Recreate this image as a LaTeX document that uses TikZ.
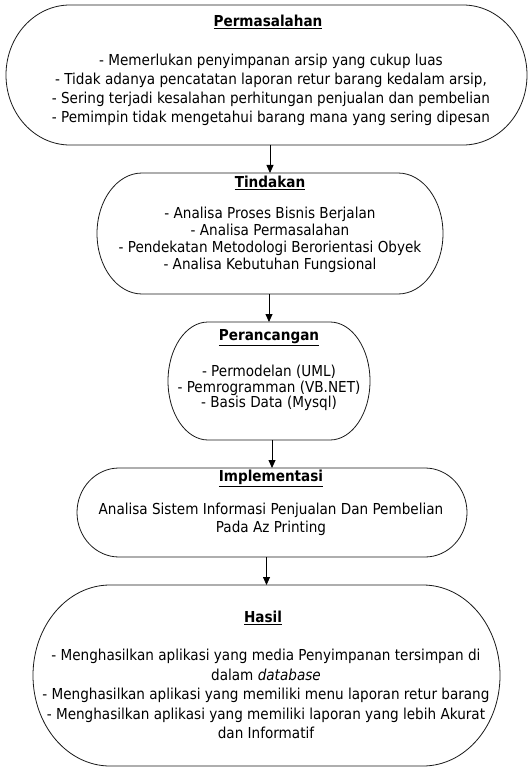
\documentclass[tikz,border=0pt]{standalone}
\usepackage{fontspec}
\setmainfont{DejaVu Sans Condensed}
\usetikzlibrary{arrows.meta,calc}

% capsule outline around a frame node: straight top/bottom, elliptic ends
\newcommand\capsule[3]{%
  \draw[outline] ($(#1.north west)+(#2pt,0)$) -- ($(#1.north east)+(-#2pt,0)$)
    arc[start angle=90,end angle=-90,x radius=#2pt,y radius=#3pt]
    -- ($(#1.south west)+(#2pt,0)$)
    arc[start angle=270,end angle=90,x radius=#2pt,y radius=#3pt] -- cycle;}

\begin{document}
\begin{tikzpicture}[x=1pt,y=-1pt,
  frame/.style={draw=none,inner sep=0pt,outer sep=0pt},
  outline/.style={draw=black!90,line width=0.8pt},
  title/.style={inner sep=0pt,font=\fontsize{15.1}{16}\selectfont\bfseries},
  body/.style={inner sep=0pt,align=center,font=\fontsize{15.1}{#1}\selectfont},
  body/.default=19,
  arr/.style={draw=black,line width=0.8pt,-{Triangle[length=8pt,width=7pt]}}]
\useasboundingbox (0,0) rectangle (531,767);

% frames
\node[frame,minimum width=521pt,minimum height=140pt] (b1) at (266.5,75) {};
\node[frame,minimum width=346pt,minimum height=121pt] (b2) at (270,233.5) {};
\node[frame,minimum width=202pt,minimum height=118pt] (b3) at (269,381) {};
\node[frame,minimum width=390pt,minimum height=89pt] (b4) at (272,512.5) {};
\node[frame,minimum width=467pt,minimum height=181pt] (b5) at (266.5,675.5) {};

\capsule{b1}{64}{70}
\capsule{b2}{45}{60.5}
\capsule{b3}{40}{59}
\capsule{b4}{42}{44.5}
\capsule{b5}{77}{90.5}

% texts
\node[title] (t1) at (268,22) {\underline{Permasalahan}};
\node[body=19] (d1) at (271,90) {- Memerlukan penyimpanan arsip yang cukup luas\\
- Tidak adanya pencatatan laporan retur barang kedalam arsip,\\
- Sering terjadi kesalahan perhitungan penjualan dan pembelian\\
- Pemimpin tidak mengetahui barang mana yang sering dipesan};

\node[title] (t2) at (270,183) {\underline{Tindakan}};
\node[body=17.2] (d2) at (270,240) {- Analisa Proses Bisnis Berjalan\\
- Analisa Permasalahan\\
- Pendekatan Metodologi Berorientasi Obyek\\
- Analisa Kebutuhan Fungsional};

\node[title] (t3) at (269,338) {\underline{Perancangan}};
\node[body=15.8] (d3) at (269,388) {- Permodelan (UML)\\
- Pemrogramman (VB.NET)\\
- Basis Data (Mysql)};

\node[title] (t4) at (271,478) {\underline{Implementasi}};
\node[body=18] (d4) at (271,519) {Analisa Sistem Informasi Penjualan Dan Pembelian\\
Pada Az Printing};

\node[title] (t5) at (263,618) {\underline{Hasil}};
\node[body=19.5] (d5) at (266,694) {- Menghasilkan aplikasi yang media Penyimpanan tersimpan di\\
dalam \textit{database}\\
- Menghasilkan aplikasi yang memiliki menu laporan retur barang\\
- Menghasilkan aplikasi yang memiliki laporan yang lebih Akurat\\
dan Informatif};

% connectors
\draw[arr] (b2.north |- b1.south) -- (b2.north);
\draw[arr] (b3.north |- b2.south) -- (b3.north);
\draw[arr] (b3.south -| b4.north) -- (b4.north);
\draw[arr] (b5.north |- b4.south) -- (b5.north);
\end{tikzpicture}
\end{document}
